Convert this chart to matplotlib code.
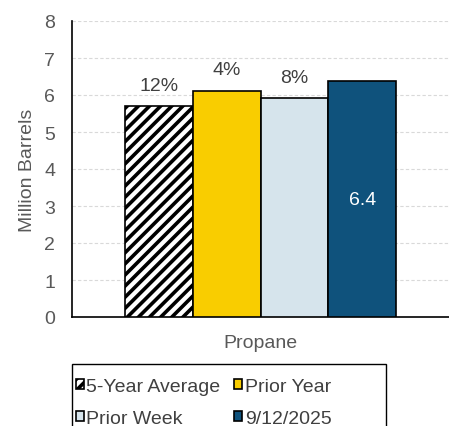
import numpy as np
import matplotlib.pyplot as plt
from matplotlib.patches import Rectangle

# --------------------------------------------------------
# DATA
# --------------------------------------------------------
category = "Propane"
series = ["5-Year Average", "Prior Year", "Prior Week", "9/12/2025"]
values = [5.71, 6.12, 5.91, 6.38]
top_labels = ["12%", "4%", "8%", None]
inside_label = "6.4"

colors = ["white", "#F9CD00", "#D6E4EC", "#0F527C"]
hatches = ["///", None, None, None]

plt.rcParams["font.family"] = ["Liberation Sans", "DejaVu Sans"]
plt.rcParams["hatch.linewidth"] = 2.6

fig = plt.figure(figsize=(4.49, 4.27), dpi=100)
ax = fig.add_axes([72 / 449, 1 - 318 / 427, 377 / 449, 296 / 427])

width = 0.18
offsets = (np.arange(len(series)) - 1.5) * width
bars = []
for i, (name, v) in enumerate(zip(series, values)):
    b = ax.bar(offsets[i], v, width=width, color=colors[i], edgecolor="black",
               linewidth=1.2, hatch=hatches[i], label=name, zorder=3)
    bars.append(b)

for i, lab in enumerate(top_labels):
    if lab:
        ax.text(offsets[i], values[i] + 0.33, lab, ha="center", va="bottom",
                fontsize=14, color="#404040")
ax.text(offsets[3], 3.17, inside_label, ha="center", va="center",
        fontsize=14, color="white", zorder=4)

ax.set_xlim(-0.5, 0.5)
ax.set_ylim(0, 8)
ax.set_yticks(range(0, 9))
ax.set_xticks([0])
ax.set_xticklabels([category])
ax.tick_params(axis="both", length=0, labelsize=14, colors="#595959")
ax.tick_params(axis="y", pad=12)
ax.tick_params(axis="x", pad=12)
ax.set_ylabel("Million Barrels", fontsize=14, color="#595959", labelpad=6)
ax.yaxis.grid(True, linestyle=(0, (3, 2)), color="#D9D9D9", linewidth=0.8, zorder=0)

for s in ["top", "right"]:
    ax.spines[s].set_visible(False)
ax.spines["left"].set_color("black")
ax.spines["bottom"].set_color("black")
ax.spines["left"].set_linewidth(1.2)
ax.spines["bottom"].set_linewidth(1.2)

# legend fills column-wise, so reorder to get row-wise layout
order = [0, 2, 1, 3]
leg = fig.legend(handles=[bars[i][0] for i in order], labels=[series[i] for i in order],
                 ncol=2, loc="upper left", bbox_to_anchor=(76 / 449, 1 - 379 / 427),
                 fontsize=14, frameon=False,
                 handlelength=0.42, handleheight=0.42, handletextpad=0.12,
                 columnspacing=0.7, labelspacing=0.75, borderpad=0,
                 borderaxespad=0, labelcolor="#404040")

# fixed-width legend box like the original (runs off the bottom)
frame = Rectangle((72 / 449, -0.05), (386 - 72) / 449, 0.05 + 1 - 365 / 427,
                  transform=fig.transFigure, fill=False, edgecolor="black",
                  linewidth=1.0)
fig.add_artist(frame)

fig.savefig("out.png", dpi=100)
